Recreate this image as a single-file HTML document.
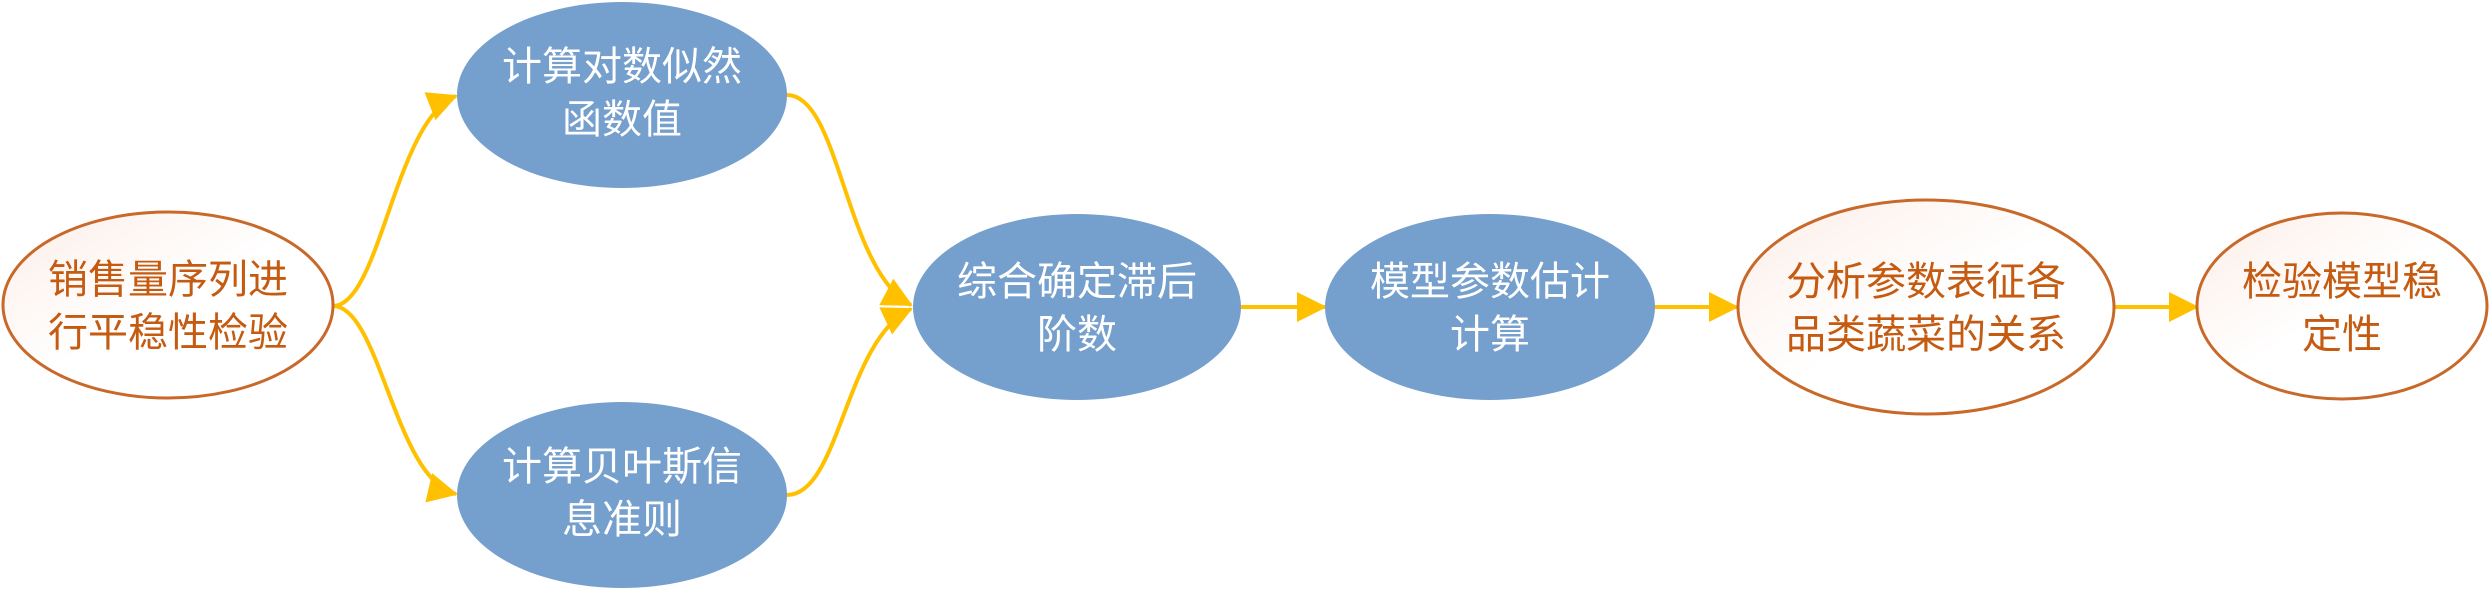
<!DOCTYPE html>
<html><head><meta charset="utf-8"><style>
html,body{margin:0;padding:0;background:#fff;}
svg{display:block;}
text{font-family:"Liberation Sans","Noto Sans CJK SC",sans-serif;font-size:40px;text-anchor:middle;}
.w{fill:#fff;}
.o{fill:#C55A11;}
</style></head><body>
<svg width="2490" height="590" viewBox="0 0 2490 590" xmlns="http://www.w3.org/2000/svg">
<defs>
<marker id="big" markerWidth="30" markerHeight="30" refX="28" refY="15" orient="auto" markerUnits="userSpaceOnUse" viewBox="0 0 30 30">
<path d="M0,0 L30,15 L0,30 Z" fill="#FFC000"/>
</marker>
<linearGradient id="pk" x1="0" y1="0" x2="1" y2="1">
<stop offset="0" stop-color="#FCEEE8"/><stop offset="0.5" stop-color="#FFFFFF"/><stop offset="1" stop-color="#FFFFFF"/>
</linearGradient>
</defs>
<g fill="none" stroke="#FFC000" stroke-width="4">
<path d="M333,306 C380,306 395,120 456,96" marker-end="url(#big)"/>
<path d="M333,306 C380,306 395,480 456,494" marker-end="url(#big)"/>
<path d="M787,95 C840,95 845,270 911,305" marker-end="url(#big)"/>
<path d="M787,495 C840,495 845,340 911,309" marker-end="url(#big)"/>
<path d="M1241,307 L1325,307" marker-end="url(#big)"/>
<path d="M1654,307 L1737,307" marker-end="url(#big)"/>
<path d="M2115,307 L2197,307" marker-end="url(#big)"/>
</g>
<ellipse cx="168" cy="305" rx="165" ry="93" fill="url(#pk)" stroke="#C8692A" stroke-width="3"/>
<ellipse cx="622" cy="95" rx="165" ry="93" fill="#759FCC"/>
<ellipse cx="622" cy="495" rx="165" ry="93" fill="#759FCC"/>
<ellipse cx="1077" cy="307" rx="164" ry="93" fill="#759FCC"/>
<ellipse cx="1490" cy="307" rx="165" ry="93" fill="#759FCC"/>
<ellipse cx="1926" cy="307" rx="188" ry="107" fill="url(#pk)" stroke="#C8692A" stroke-width="3"/>
<ellipse cx="2342" cy="306" rx="145" ry="93" fill="url(#pk)" stroke="#C8692A" stroke-width="3"/>
<text class="o" x="168" y="293">销售量序列进</text>
<text class="o" x="168" y="346">行平稳性检验</text>
<text class="w" x="622" y="80">计算对数似然</text>
<text class="w" x="622" y="133">函数值</text>
<text class="w" x="622" y="480">计算贝叶斯信</text>
<text class="w" x="622" y="533">息准则</text>
<text class="w" x="1077" y="295">综合确定滞后</text>
<text class="w" x="1077" y="348">阶数</text>
<text class="w" x="1490" y="295">模型参数估计</text>
<text class="w" x="1490" y="348">计算</text>
<text class="o" x="1926" y="295">分析参数表征各</text>
<text class="o" x="1926" y="348">品类蔬菜的关系</text>
<text class="o" x="2342" y="295">检验模型稳</text>
<text class="o" x="2342" y="348">定性</text>
</svg>
</body></html>
